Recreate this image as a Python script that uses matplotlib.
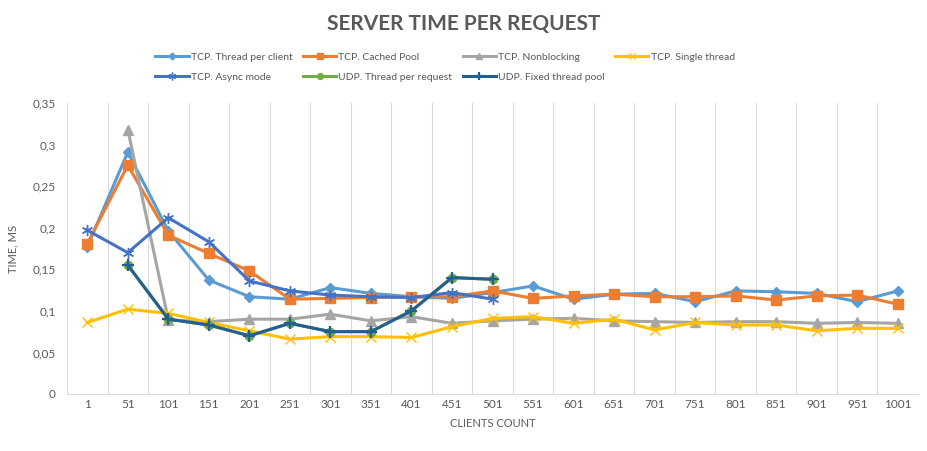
import numpy as np
import matplotlib.pyplot as plt
from matplotlib.ticker import FuncFormatter

plt.rcParams['font.family'] = ['Lato', 'DejaVu Sans']

clients = [1, 51, 101, 151, 201, 251, 301, 351, 401, 451, 501,
           551, 601, 651, 701, 751, 801, 851, 901, 951, 1001]

tcp_thread = [0.177, 0.291, 0.196, 0.137, 0.117, 0.114, 0.128, 0.121, 0.117, 0.115, 0.122,
              0.130, 0.114, 0.120, 0.121, 0.111, 0.124, 0.123, 0.121, 0.111, 0.124]
tcp_cached = [0.181, 0.275, 0.191, 0.169, 0.148, 0.114, 0.115, 0.116, 0.117, 0.117, 0.124,
              0.115, 0.118, 0.120, 0.117, 0.117, 0.118, 0.113, 0.118, 0.119, 0.108]
tcp_nonblock = [None, 0.318, 0.089, 0.087, 0.090, 0.090, 0.096, 0.088, 0.093, 0.085, 0.088,
                0.090, 0.091, 0.088, 0.087, 0.086, 0.087, 0.087, 0.085, 0.086, 0.085]
tcp_single = [0.086, 0.102, 0.097, 0.086, 0.076, 0.066, 0.069, 0.069, 0.068, 0.081, 0.091,
              0.093, 0.085, 0.090, 0.077, 0.086, 0.083, 0.083, 0.076, 0.079, 0.079]
tcp_async = [0.197, 0.170, 0.212, 0.183, 0.136, 0.124, 0.119, 0.117, 0.116, 0.122, 0.114]
udp_thread = [None, 0.155, 0.090, 0.083, 0.070, 0.085, 0.075, 0.075, 0.100, 0.140, 0.138]
udp_fixed = [None, 0.155, 0.090, 0.083, 0.070, 0.085, 0.075, 0.075, 0.100, 0.140, 0.138]

def arr(v):
    return np.array([np.nan if a is None else a for a in v], dtype=float)

fig = plt.figure(figsize=(9.27, 4.51), dpi=100)
ax = fig.add_axes([0.0723, 0.1264, 0.918, 0.6452])
ax.set_axisbelow(True)

x = np.arange(len(clients))
lw = 2.2
series = [
    ("TCP. Thread per client", tcp_thread, '#5B9BD5', dict(marker='D', ms=5)),
    ("TCP. Cached Pool", tcp_cached, '#ED7D31', dict(marker='s', ms=6.5)),
    ("TCP. Nonblocking", tcp_nonblock, '#A5A5A5', dict(marker='^', ms=7)),
    ("TCP. Single thread", tcp_single, '#FFC000', dict(marker='x', ms=7, mew=1.0)),
    ("TCP. Async mode", tcp_async, '#4472C4', dict(marker=(6, 2, 0), ms=8, mew=1.0)),
    ("UDP. Thread per request", udp_thread, '#70AD47', dict(marker='o', ms=6)),
    ("UDP. Fixed thread pool", udp_fixed, '#255E91', dict(marker='+', ms=8, mew=1.6)),
]
handles = []
for label, vals, color, mk in series:
    v = arr(vals)
    h, = ax.plot(x[:len(v)], v, color=color, lw=lw, label=label, zorder=3, **mk)
    handles.append(h)

ax.set_xlim(-0.5, len(clients) - 0.5)
ax.set_ylim(0, 0.35)
ax.set_yticks(np.arange(0, 0.351, 0.05))
ax.yaxis.set_major_formatter(FuncFormatter(lambda v, p: '0' if v == 0 else ('%.2f' % v).rstrip('0').replace('.', ',')))
ax.set_xticks(x)
ax.set_xticklabels([str(c) for c in clients])
ax.set_xticks(np.arange(-0.5, len(clients)), minor=True)
ax.grid(True, which='minor', axis='x', color='#D9D9D9', lw=0.75, zorder=0)
ax.tick_params(which='both', length=0, colors='#595959', labelsize=8.5)
ax.tick_params(axis='y', pad=8)
for s in ['top', 'right', 'left']:
    ax.spines[s].set_visible(False)
ax.spines['bottom'].set_color('#D9D9D9')
ax.spines['bottom'].set_linewidth(0.75)

ax.set_xlabel('CLIENTS COUNT', fontsize=8, color='#595959', labelpad=6)
ax.set_ylabel('TIME, MS', fontsize=8, color='#595959', labelpad=10)
fig.suptitle('SERVER TIME PER REQUEST', y=0.968, fontsize=15, fontweight='bold', color='#595959')

order = [0, 4, 1, 5, 2, 6, 3]
leg = fig.legend([handles[i] for i in order], [series[i][0] for i in order],
                 ncol=4, loc='upper center', bbox_to_anchor=(0.48, 0.905), frameon=False,
                 fontsize=7.5, handlelength=3.2, columnspacing=1.0, labelspacing=1.05,
                 handletextpad=0.2, markerscale=0.7)
for t in leg.get_texts():
    t.set_color('#595959')

fig.savefig('out.png', dpi=100)
